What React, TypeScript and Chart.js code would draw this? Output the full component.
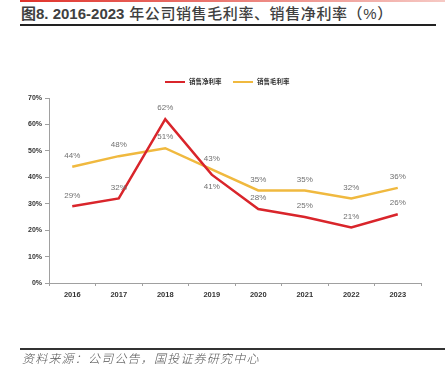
import React, { useEffect, useRef } from "react";
import { Chart, registerables } from "chart.js";

Chart.register(...registerables);

const years = ["2016", "2017", "2018", "2019", "2020", "2021", "2022", "2023"];
const netMargin = [29, 32, 62, 41, 28, 25, 21, 26];
const grossMargin = [44, 48, 51, 43, 35, 35, 32, 36];
const netLabelBelow = [false, false, false, true, false, false, false, false];
const grossLabelBelow = [false, false, false, false, false, false, false, false];
const yTicks = [0, 10, 20, 30, 40, 50, 60, 70];

const RED = "#d9252b";
const YELLOW = "#f0b93f";

const labelPlugin = {
  id: "valueLabels",
  afterDatasetsDraw(chart: any) {
    const ctx = chart.ctx;
    ctx.save();
    ctx.font = "8px 'Liberation Sans', Arial, sans-serif";
    ctx.fillStyle = "#707070";
    ctx.textAlign = "center";
    ctx.textBaseline = "middle";
    const belows = [netLabelBelow, grossLabelBelow];
    chart.data.datasets.forEach((ds: any, di: number) => {
      const meta = chart.getDatasetMeta(di);
      meta.data.forEach((pt: any, i: number) => {
        const below = belows[di][i];
        ctx.fillText(ds.data[i] + "%", pt.x, pt.y + (below ? 12 : -11));
      });
    });
    // legend
    const items = [
      { x: 165, label: chart.data.datasets[0].label, color: RED },
      { x: 233, label: chart.data.datasets[1].label, color: YELLOW },
    ];
    const ly = 82;
    items.forEach((it) => {
      ctx.strokeStyle = it.color;
      ctx.lineWidth = 2;
      ctx.beginPath();
      ctx.moveTo(it.x, ly);
      ctx.lineTo(it.x + 20, ly);
      ctx.stroke();
      ctx.fillStyle = "#333";
      ctx.textAlign = "left";
      ctx.font = "bold 6.5px 'Noto Sans CJK SC', sans-serif";
      ctx.fillText(it.label, it.x + 24, ly);
    });
    ctx.restore();
  },
};

export default function App() {
  const ref = useRef<HTMLCanvasElement>(null);
  useEffect(() => {
    document.body.style.margin = "0";
    const chart = new Chart(ref.current as HTMLCanvasElement, {
      type: "line",
      data: {
        labels: years,
        datasets: [
          {
            label: "销售净利率",
            data: netMargin,
            borderColor: RED,
            backgroundColor: RED,
            borderWidth: 2.5,
            pointRadius: 0,
            tension: 0,
          },
          {
            label: "销售毛利率",
            data: grossMargin,
            borderColor: YELLOW,
            backgroundColor: YELLOW,
            borderWidth: 2.5,
            pointRadius: 0,
            tension: 0,
          },
        ],
      },
      options: {
        responsive: false,
        animation: false,
        layout: { padding: { left: 0, right: 24, top: 98, bottom: 75 } },
        plugins: { legend: { display: false }, tooltip: { enabled: false } },
        scales: {
          x: {
            offset: true,
            grid: {
              display: true,
              offset: true,
              drawOnChartArea: false,
              tickLength: 3,
              color: "#a0a0a0",
            },
            border: { color: "#a0a0a0", width: 1 },
            ticks: {
              color: "#333",
              font: { size: 7.5, weight: "bold", family: "'Liberation Sans', Arial, sans-serif" },
              padding: 4,
            },
            afterFit: (s: any) => {
              s.height = 20;
            },
          },
          y: {
            min: 0,
            max: 70,
            afterBuildTicks: (s: any) => {
              s.ticks = yTicks.map((v) => ({ value: v }));
            },
            grid: {
              display: true,
              drawOnChartArea: false,
              tickLength: 4,
              color: "#a0a0a0",
            },
            border: { color: "#a0a0a0", width: 1 },
            ticks: {
              color: "#333",
              font: { size: 7, weight: "bold", family: "'Liberation Sans', Arial, sans-serif" },
              padding: 3,
              callback: (v: any) => v + "%",
            },
            afterFit: (s: any) => {
              s.width = 49;
            },
          },
        },
      },
      plugins: [labelPlugin],
    });
    return () => chart.destroy();
  }, []);

  return (
    <div style={{ position: "relative", width: 445, height: 378, background: "#fff", overflow: "hidden" }}>
      <div
        style={{
          position: "absolute",
          left: 20,
          top: 0,
          width: 425,
          height: 2,
          background: "linear-gradient(to right, #e0322a, #f6c9c4)",
        }}
      />
      <div
        style={{
          position: "absolute",
          left: 21,
          top: 4,
          fontFamily: "'Liberation Sans', 'Noto Sans CJK SC', sans-serif",
          fontSize: 15,
          color: "#404040",
          whiteSpace: "nowrap",
          lineHeight: "19px",
        }}
      >
        <span style={{ fontWeight: "bold" }}>图8. 2016-2023</span>
        <span style={{ fontWeight: 500, letterSpacing: 0.6 }}> 年公司销售毛利率、销售净利率（%）</span>
      </div>
      <div style={{ position: "absolute", left: 20, top: 24, width: 416, height: 1.5, background: "#222" }} />
      <canvas ref={ref} width={445} height={378} style={{ position: "absolute", left: 0, top: 0 }} />
      <div style={{ position: "absolute", left: 20, top: 348, width: 425, height: 2, background: "#333" }} />
      <div
        style={{
          position: "absolute",
          left: 22,
          top: 350,
          fontFamily: "'Noto Sans CJK SC', sans-serif",
          fontSize: 12,
          fontStyle: "italic",
          fontWeight: 300,
          color: "#555",
          letterSpacing: 1.2,
          whiteSpace: "nowrap",
          lineHeight: "16px",
        }}
      >
        资料来源：公司公告，国投证券研究中心
      </div>
    </div>
  );
}
